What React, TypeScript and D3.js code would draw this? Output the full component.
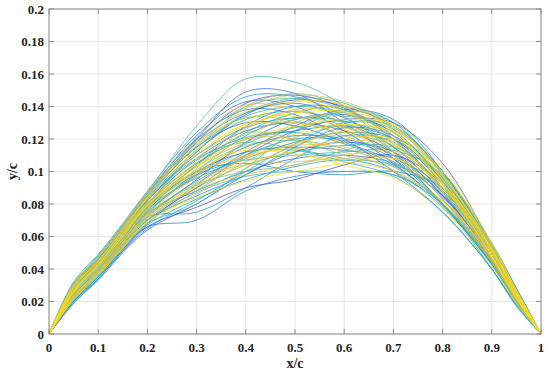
import * as d3 from 'd3';

const xStations = [0, 0.05, 0.1, 0.15, 0.2, 0.3, 0.4, 0.5, 0.6, 0.7, 0.8, 0.9, 0.95, 1];

// y/c values of each profile at the stations above
const profiles: number[][] = [
  [0, 0.028, 0.045, 0.064, 0.083, 0.118, 0.142, 0.147, 0.139, 0.122, 0.094, 0.050, 0.024, 0],
  [0, 0.020, 0.034, 0.051, 0.066, 0.078, 0.090, 0.095, 0.104, 0.110, 0.092, 0.048, 0.023, 0],
  [0, 0.028, 0.044, 0.063, 0.082, 0.112, 0.135, 0.144, 0.140, 0.128, 0.100, 0.053, 0.026, 0],
  [0, 0.022, 0.037, 0.055, 0.070, 0.090, 0.110, 0.125, 0.132, 0.130, 0.105, 0.055, 0.028, 0],
  [0, 0.027, 0.043, 0.061, 0.080, 0.108, 0.125, 0.130, 0.125, 0.112, 0.085, 0.045, 0.021, 0],
  [0, 0.024, 0.039, 0.057, 0.075, 0.098, 0.115, 0.122, 0.120, 0.110, 0.086, 0.047, 0.022, 0],
  [0, 0.030, 0.047, 0.066, 0.086, 0.122, 0.143, 0.140, 0.125, 0.105, 0.080, 0.044, 0.020, 0],
  [0, 0.019, 0.033, 0.050, 0.064, 0.080, 0.098, 0.112, 0.118, 0.112, 0.088, 0.048, 0.023, 0],
  [0, 0.025, 0.041, 0.059, 0.078, 0.100, 0.112, 0.115, 0.113, 0.108, 0.090, 0.050, 0.025, 0],
  [0, 0.029, 0.046, 0.066, 0.086, 0.120, 0.149, 0.148, 0.130, 0.108, 0.080, 0.043, 0.020, 0],
  [0, 0.022, 0.037, 0.055, 0.072, 0.095, 0.118, 0.132, 0.135, 0.124, 0.094, 0.050, 0.024, 0],
  [0, 0.028, 0.045, 0.064, 0.084, 0.115, 0.130, 0.128, 0.118, 0.106, 0.085, 0.047, 0.022, 0],
  [0, 0.024, 0.039, 0.057, 0.074, 0.088, 0.100, 0.108, 0.110, 0.105, 0.085, 0.046, 0.022, 0],
  [0, 0.031, 0.048, 0.067, 0.087, 0.120, 0.138, 0.135, 0.120, 0.100, 0.075, 0.040, 0.018, 0],
  [0, 0.021, 0.036, 0.053, 0.068, 0.092, 0.112, 0.128, 0.138, 0.132, 0.100, 0.052, 0.025, 0],
  [0, 0.026, 0.042, 0.061, 0.080, 0.105, 0.120, 0.125, 0.128, 0.120, 0.092, 0.050, 0.024, 0],
  [0, 0.021, 0.035, 0.052, 0.066, 0.070, 0.088, 0.097, 0.100, 0.098, 0.080, 0.045, 0.021, 0],
  [0, 0.027, 0.043, 0.061, 0.079, 0.100, 0.105, 0.100, 0.098, 0.100, 0.090, 0.052, 0.027, 0],
  [0, 0.021, 0.036, 0.054, 0.070, 0.085, 0.098, 0.115, 0.127, 0.122, 0.096, 0.050, 0.024, 0],
  [0, 0.030, 0.047, 0.066, 0.085, 0.118, 0.136, 0.142, 0.133, 0.115, 0.087, 0.047, 0.022, 0],
  [0, 0.025, 0.041, 0.059, 0.076, 0.104, 0.128, 0.140, 0.138, 0.120, 0.088, 0.046, 0.021, 0],
  [0, 0.025, 0.040, 0.058, 0.077, 0.096, 0.108, 0.118, 0.124, 0.120, 0.095, 0.053, 0.026, 0],
  [0, 0.028, 0.045, 0.063, 0.082, 0.110, 0.127, 0.133, 0.131, 0.120, 0.093, 0.050, 0.024, 0],
  [0, 0.023, 0.038, 0.055, 0.072, 0.075, 0.090, 0.108, 0.122, 0.118, 0.090, 0.050, 0.024, 0],
  [0, 0.020, 0.035, 0.052, 0.067, 0.083, 0.095, 0.103, 0.107, 0.100, 0.078, 0.043, 0.020, 0],
  [0, 0.032, 0.049, 0.068, 0.088, 0.124, 0.146, 0.146, 0.134, 0.112, 0.083, 0.045, 0.021, 0],
  [0, 0.023, 0.038, 0.056, 0.073, 0.094, 0.110, 0.120, 0.119, 0.108, 0.080, 0.040, 0.017, 0],
  [0, 0.027, 0.043, 0.062, 0.081, 0.107, 0.121, 0.124, 0.117, 0.104, 0.079, 0.043, 0.020, 0],
  [0, 0.019, 0.034, 0.051, 0.065, 0.082, 0.100, 0.117, 0.130, 0.128, 0.100, 0.054, 0.027, 0],
  [0, 0.029, 0.045, 0.064, 0.083, 0.113, 0.132, 0.137, 0.130, 0.115, 0.090, 0.050, 0.024, 0],
  [0, 0.024, 0.040, 0.057, 0.075, 0.097, 0.112, 0.113, 0.106, 0.097, 0.075, 0.040, 0.018, 0],
  [0, 0.026, 0.041, 0.059, 0.078, 0.098, 0.107, 0.110, 0.112, 0.113, 0.098, 0.056, 0.028, 0],
  [0, 0.025, 0.041, 0.060, 0.078, 0.104, 0.124, 0.136, 0.140, 0.130, 0.098, 0.052, 0.025, 0],
  [0, 0.029, 0.046, 0.064, 0.084, 0.115, 0.134, 0.140, 0.136, 0.124, 0.096, 0.053, 0.026, 0],
  [0, 0.022, 0.037, 0.055, 0.071, 0.090, 0.104, 0.112, 0.116, 0.115, 0.097, 0.055, 0.028, 0],
  [0, 0.028, 0.044, 0.063, 0.082, 0.108, 0.118, 0.114, 0.108, 0.104, 0.088, 0.050, 0.024, 0],
  [0, 0.024, 0.039, 0.056, 0.074, 0.100, 0.122, 0.133, 0.128, 0.110, 0.080, 0.042, 0.019, 0],
  [0, 0.027, 0.042, 0.061, 0.080, 0.112, 0.136, 0.145, 0.142, 0.126, 0.094, 0.050, 0.023, 0],
  [0, 0.021, 0.035, 0.053, 0.068, 0.080, 0.102, 0.125, 0.137, 0.130, 0.098, 0.052, 0.025, 0],
  [0, 0.031, 0.048, 0.067, 0.087, 0.128, 0.157, 0.155, 0.140, 0.112, 0.080, 0.044, 0.021, 0],
  [0, 0.022, 0.037, 0.054, 0.070, 0.087, 0.097, 0.100, 0.100, 0.098, 0.082, 0.046, 0.022, 0],
  [0, 0.030, 0.047, 0.066, 0.086, 0.119, 0.140, 0.145, 0.138, 0.120, 0.090, 0.048, 0.022, 0],
  [0, 0.024, 0.039, 0.057, 0.075, 0.099, 0.117, 0.127, 0.131, 0.126, 0.099, 0.053, 0.025, 0],
  [0, 0.025, 0.041, 0.058, 0.077, 0.101, 0.116, 0.119, 0.114, 0.103, 0.080, 0.044, 0.020, 0],
  [0, 0.024, 0.039, 0.057, 0.074, 0.092, 0.100, 0.104, 0.113, 0.120, 0.100, 0.053, 0.026, 0],
  [0, 0.027, 0.043, 0.061, 0.080, 0.105, 0.123, 0.132, 0.134, 0.127, 0.100, 0.054, 0.026, 0],
  [0, 0.021, 0.036, 0.053, 0.068, 0.088, 0.106, 0.118, 0.122, 0.116, 0.090, 0.048, 0.023, 0],
  [0, 0.029, 0.046, 0.065, 0.085, 0.117, 0.133, 0.131, 0.122, 0.110, 0.087, 0.048, 0.023, 0],
  [0, 0.028, 0.045, 0.064, 0.083, 0.110, 0.124, 0.120, 0.110, 0.103, 0.090, 0.052, 0.025, 0],
  [0, 0.023, 0.038, 0.056, 0.073, 0.093, 0.109, 0.121, 0.128, 0.124, 0.096, 0.050, 0.024, 0],
  [0, 0.026, 0.042, 0.060, 0.079, 0.103, 0.118, 0.127, 0.127, 0.117, 0.090, 0.048, 0.023, 0],
  [0, 0.028, 0.044, 0.063, 0.082, 0.114, 0.140, 0.148, 0.140, 0.120, 0.088, 0.047, 0.022, 0],
  [0, 0.021, 0.036, 0.053, 0.069, 0.086, 0.102, 0.116, 0.124, 0.118, 0.088, 0.046, 0.022, 0],
  [0, 0.030, 0.047, 0.065, 0.085, 0.116, 0.139, 0.147, 0.143, 0.128, 0.097, 0.052, 0.025, 0],
  [0, 0.022, 0.037, 0.054, 0.070, 0.088, 0.110, 0.130, 0.136, 0.125, 0.092, 0.048, 0.023, 0],
  [0, 0.025, 0.040, 0.058, 0.076, 0.096, 0.104, 0.106, 0.108, 0.108, 0.090, 0.051, 0.025, 0],
  [0, 0.024, 0.040, 0.057, 0.075, 0.102, 0.126, 0.137, 0.130, 0.112, 0.083, 0.044, 0.020, 0],
  [0, 0.026, 0.042, 0.060, 0.079, 0.106, 0.127, 0.138, 0.136, 0.122, 0.093, 0.050, 0.024, 0],
  [0, 0.027, 0.044, 0.062, 0.081, 0.104, 0.120, 0.120, 0.112, 0.101, 0.081, 0.045, 0.021, 0],
  [0, 0.023, 0.038, 0.055, 0.072, 0.089, 0.098, 0.104, 0.110, 0.112, 0.095, 0.054, 0.027, 0],
  [0, 0.022, 0.037, 0.055, 0.072, 0.092, 0.108, 0.116, 0.115, 0.106, 0.084, 0.046, 0.022, 0],
  [0, 0.031, 0.048, 0.067, 0.087, 0.121, 0.141, 0.138, 0.126, 0.110, 0.084, 0.046, 0.021, 0],
  [0, 0.029, 0.045, 0.064, 0.084, 0.116, 0.133, 0.134, 0.127, 0.116, 0.092, 0.051, 0.024, 0],
  [0, 0.025, 0.041, 0.059, 0.078, 0.099, 0.110, 0.114, 0.118, 0.118, 0.094, 0.052, 0.025, 0],
  [0, 0.027, 0.043, 0.061, 0.080, 0.100, 0.109, 0.117, 0.125, 0.125, 0.100, 0.055, 0.027, 0],
  [0, 0.023, 0.039, 0.056, 0.074, 0.097, 0.120, 0.136, 0.140, 0.128, 0.095, 0.050, 0.024, 0],
  [0, 0.030, 0.047, 0.066, 0.086, 0.118, 0.137, 0.143, 0.137, 0.118, 0.088, 0.047, 0.022, 0],
  [0, 0.028, 0.045, 0.063, 0.083, 0.111, 0.128, 0.130, 0.124, 0.114, 0.090, 0.050, 0.024, 0],
  [0, 0.023, 0.038, 0.056, 0.073, 0.091, 0.104, 0.113, 0.120, 0.120, 0.097, 0.053, 0.026, 0],
  [0, 0.022, 0.037, 0.054, 0.071, 0.091, 0.106, 0.110, 0.106, 0.100, 0.082, 0.047, 0.023, 0],
  [0, 0.025, 0.041, 0.058, 0.077, 0.103, 0.120, 0.128, 0.132, 0.129, 0.103, 0.056, 0.027, 0],
  [0, 0.026, 0.043, 0.061, 0.080, 0.108, 0.130, 0.143, 0.141, 0.125, 0.092, 0.048, 0.022, 0],
  [0, 0.027, 0.043, 0.062, 0.081, 0.104, 0.113, 0.111, 0.104, 0.096, 0.077, 0.042, 0.019, 0],
  [0, 0.021, 0.036, 0.053, 0.069, 0.084, 0.094, 0.100, 0.105, 0.108, 0.092, 0.052, 0.026, 0],
  [0, 0.029, 0.045, 0.064, 0.084, 0.113, 0.129, 0.136, 0.137, 0.128, 0.098, 0.052, 0.025, 0],
  [0, 0.026, 0.042, 0.060, 0.079, 0.101, 0.114, 0.123, 0.129, 0.124, 0.093, 0.048, 0.022, 0],
];

const xTicks = [0, 0.1, 0.2, 0.3, 0.4, 0.5, 0.6, 0.7, 0.8, 0.9, 1];
const yTicks = [0, 0.02, 0.04, 0.06, 0.08, 0.1, 0.12, 0.14, 0.16, 0.18, 0.2];

// matlab parula, roughly (start a bit lighter, the thin lines read lighter)
const parulaStops = ['#4b3fc6', '#1f66e0', '#1481d6', '#06a4ca', '#2eb7a4', '#87bf77', '#d1bb59', '#fec832', '#f9e40e'];

const W = 550, H = 374;
const margin = {left: 49, right: 9, top: 9, bottom: 40};

const App = () => {
  const x = d3.scaleLinear().domain([0, 1]).range([margin.left, W - margin.right]);
  const y = d3.scaleLinear().domain([0, 0.2]).range([H - margin.bottom, margin.top]);
  const color = d3.interpolateRgbBasis(parulaStops);

  const line = d3.line<number>()
    .x((_, i) => x(xStations[i]))
    .y(d => y(d))
    .curve(d3.curveCatmullRom.alpha(0.5));

  const x0 = x(0), x1 = x(1), y0 = y(0), y1 = y(0.2);
  const txt = {fontFamily: '"Liberation Serif", "Times New Roman", serif', fontWeight: 'bold' as const};

  return (
    <svg width={W} height={H} style={{position: 'absolute', left: 0, top: 0, background: '#fff'}}>
      {/* grid */}
      {xTicks.map(t => <line key={'gx' + t} x1={x(t)} x2={x(t)} y1={y0} y2={y1} stroke="#e6e6e6" strokeWidth={1} />)}
      {yTicks.map(t => <line key={'gy' + t} x1={x0} x2={x1} y1={y(t)} y2={y(t)} stroke="#e6e6e6" strokeWidth={1} />)}

      {/* curves */}
      <g fill="none" strokeWidth={0.9} strokeOpacity={0.8}>
        {profiles.map((p, i) => (
          <path key={i} d={line(p) ?? ''} stroke={color(i / (profiles.length - 1))} />
        ))}
      </g>

      {/* box + ticks */}
      <rect x={x0} y={y1} width={x1 - x0} height={y0 - y1} fill="none" stroke="#8c8c8c" strokeWidth={1} />
      {xTicks.map(t => (
        <g key={'tx' + t}>
          <line x1={x(t)} x2={x(t)} y1={y0} y2={y0 - 5} stroke="#8c8c8c" />
          <line x1={x(t)} x2={x(t)} y1={y1} y2={y1 + 5} stroke="#8c8c8c" />
          <text x={x(t)} y={y0 + 18} textAnchor="middle" fontSize={13} fill="#262626" style={txt}>{t}</text>
        </g>
      ))}
      {yTicks.map(t => (
        <g key={'ty' + t}>
          <line x1={x0} x2={x0 + 5} y1={y(t)} y2={y(t)} stroke="#8c8c8c" />
          <line x1={x1} x2={x1 - 5} y1={y(t)} y2={y(t)} stroke="#8c8c8c" />
          <text x={x0 - 5} y={y(t) + 4.5} textAnchor="end" fontSize={13} fill="#262626" style={txt}>{t}</text>
        </g>
      ))}

      <text x={(x0 + x1) / 2} y={H - 6} textAnchor="middle" fontSize={14} fill="#262626" style={txt}>x/c</text>
      <text transform={`translate(17,${(y0 + y1) / 2}) rotate(-90)`} textAnchor="middle" fontSize={14} fill="#262626" style={txt}>y/c</text>
    </svg>
  );
};

export default App;
